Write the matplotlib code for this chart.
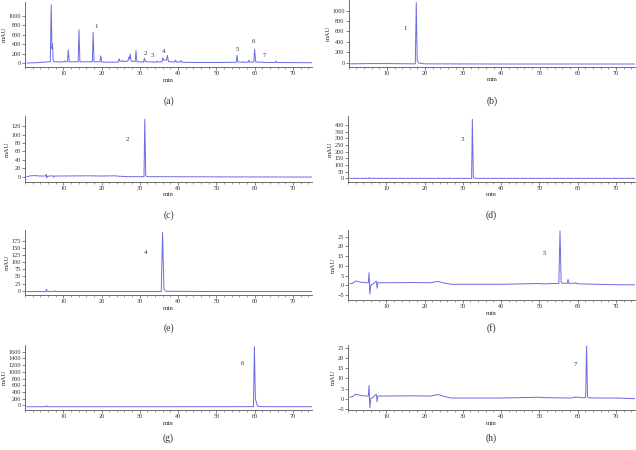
import matplotlib
matplotlib.use("Agg")
import matplotlib.pyplot as plt
from matplotlib.ticker import MultipleLocator

plt.rcParams['font.family'] = ['Liberation Serif', 'DejaVu Serif']

LINE = '#6b6be4'
TXT = '#333333'

# ---------------- data (time in min, signal in mAU) ----------------
a_t = [0.5, 3, 5, 6.6, 6.85, 7.05, 7.2, 7.35, 7.6, 9, 10.1, 10.3, 10.5, 11.1, 11.3, 11.55,
       13.9, 14.1, 14.35, 17.6, 17.8, 18.05, 19.6, 19.8, 20.05, 22, 24.4, 24.6, 24.8,
       25.3, 25.5, 25.7, 26.9, 27.2, 27.35, 27.5, 27.7, 28.8, 29.0, 29.25, 31.0, 31.2,
       31.45, 33.3, 33.5, 33.7, 34.3, 34.5, 34.7, 35.8, 36.0, 36.3, 37.0, 37.2, 37.5,
       39.1, 39.3, 39.6, 40.5, 40.7, 41.0, 45, 50, 55.2, 55.4, 55.65, 56.8, 57.0, 57.2,
       58.3, 58.5, 58.7, 59.8, 60.0, 60.3, 61.8, 62.0, 62.2, 65.3, 65.5, 65.7, 75]
a_v = [0, 5, 20, 25, 1230, 300, 410, 60, 30, 20, 25, 45, 25, 25, 280, 25,
       25, 700, 25, 25, 650, 25, 25, 150, 20, 15, 20, 90, 40,
       35, 55, 30, 40, 130, 90, 190, 40, 30, 260, 25, 20, 100,
       30, 20, 30, 15, 20, 40, 20, 25, 110, 60, 60, 160, 30,
       20, 60, 20, 20, 50, 15, 10, 10, 15, 160, 20, 15, 30, 15,
       15, 60, 15, 20, 290, 20, 15, 25, 10, 10, 40, 10, 5]
a_labels = ['1', '2', '3', '4', '5', '6', '7']
a_lab_t = [18.5, 31.5, 33.4, 36.2, 55.6, 59.7, 62.5]
a_lab_v = [780, 200, 150, 250, 290, 445, 165]

b_t = [0.5, 5.5, 9.8, 17.45, 17.7, 17.95, 18.3, 20, 40, 75]
b_v = [-25, -20, -20, -25, 1155, 40, -10, -25, -28, -28]

c_t = [0.5, 1.5, 2.5, 4, 5.4, 5.55, 5.7, 5.9, 6.5, 7.3, 7.5, 7.7, 8.5, 17, 20, 23.5, 24.5,
       27, 31.1, 31.3, 31.55, 32, 50, 75]
c_v = [0, 2, 2.5, 1.5, 1.5, 5, -3, 1, 1.5, 2, -1.5, 1.5, 1.5, 2, 1.5, 2, 1,
       0, 0, 136, 2, 0, -0.5, -1]

d_t = [0.5, 5.3, 5.5, 5.7, 20, 32.3, 32.5, 32.75, 33.2, 50, 75]
d_v = [0, 0, 6, 0, 0, 0, 442, 5, 0, 0, 0]

e_t = [0.5, 5.4, 5.6, 5.8, 7.6, 7.8, 8.0, 20, 35.6, 35.95, 36.3, 36.8, 50, 75]
e_v = [-3, -3, 5, -3, -3, 0, -3, -3, -3, 203, 5, -2, -3, -3]

f_t = [0.5, 1.2, 2, 3.5, 5.0, 5.3, 5.5, 5.7, 6.0, 6.5, 7.2, 7.45, 7.6, 7.8, 10, 17, 21.5,
       23.5, 25, 27, 40, 50, 51, 55.1, 55.4, 55.7, 56, 57.3, 57.5, 57.7, 59.3, 59.5, 59.8,
       61, 65, 70, 75]
f_v = [0.8, 1.0, 2.2, 1.5, 1.3, 1.3, 6.5, -4.5, 0.3, 0.5, 2.0, 2.0, -1.5, 1.3, 1.3, 1.4, 1.3,
       2.0, 1.2, 0.5, 0.5, 0.9, 0.7, 1.0, 28, 1.5, 1.0, 1.0, 3.0, 1.0, 1.0, 1.4, 0.8,
       0.7, 0.5, 0.3, 0.2]

g_t = [0.5, 5.4, 5.6, 5.8, 20, 40, 59.7, 59.95, 60.2, 60.7, 61.5, 75]
g_v = [-42, -42, -10, -42, -42, -42, -40, 1750, 200, -20, -40, -42]

h_t = [0.5, 1.2, 2, 3.5, 5.0, 5.3, 5.5, 5.7, 6.0, 6.5, 7.2, 7.45, 7.6, 7.8, 10, 17, 21.5,
       23.5, 25, 27, 40, 50, 51, 58.5, 59.3, 59.6, 60.1, 60.5, 61, 62.1, 62.35, 62.6,
       63, 66.5, 70.5, 75]
h_v = [0.8, 1.0, 2.2, 1.5, 1.3, 1.3, 6.5, -4.5, 0.3, 0.5, 2.0, 2.0, -1.5, 1.3, 1.3, 1.4, 1.3,
       2.0, 1.2, 0.3, 0.3, 0.7, 0.5, 0.3, 0.9, 0.5, 0.9, 0.5, 0.5, 0.5, 26, 1.0,
       0.4, 0.3, 0.3, 0.0]

panels = [
    dict(t=a_t, v=a_v, labels=a_labels, lt=a_lab_t, lv=a_lab_v, ylim=(-85, 1290), yticks=list(range(0, 1001, 200)),
         box=(25, 312, 2, 67), cap='(a)', cap_y=101),
    dict(t=b_t, v=b_v, labels=['1'], lt=[14.8], lv=[648], ylim=(-80, 1205), yticks=list(range(0, 1001, 200)),
         box=(348.7, 635, 0, 66.7), cap='(b)', cap_y=101),
    dict(t=c_t, v=c_v, labels=['2'], lt=[26.9], lv=[88], ylim=(-12, 144), yticks=list(range(0, 121, 20)),
         box=(25, 312, 116, 181.7), cap='(c)', cap_y=215),
    dict(t=d_t, v=d_v, labels=['3'], lt=[29.8], lv=[292], ylim=(-25, 467), yticks=list(range(0, 401, 50)),
         box=(348, 635, 116, 181.7), cap='(d)', cap_y=215),
    dict(t=e_t, v=e_v, labels=['4'], lt=[31.6], lv=[134], ylim=(-15, 212), yticks=list(range(0, 176, 25)),
         box=(25, 312, 230, 295), cap='(e)', cap_y=328),
    dict(t=f_t, v=f_v, labels=['5'], lt=[51.4], lv=[16.6], ylim=(-7.6, 28.5), yticks=list(range(-5, 26, 5)),
         box=(348, 635, 230, 300), cap='(f)', cap_y=328),
    dict(t=g_t, v=g_v, labels=['6'], lt=[56.8], lv=[1233], ylim=(-140, 1800), yticks=list(range(0, 1601, 200)),
         box=(25, 312, 345, 410), cap='(g)', cap_y=438),
    dict(t=h_t, v=h_v, labels=['7'], lt=[59.3], lv=[17.1], ylim=(-5.6, 26.5), yticks=list(range(-5, 26, 5)),
         box=(348, 635, 345, 410), cap='(h)', cap_y=438),
]

W, H = 636, 450
fig = plt.figure(figsize=(W / 100, H / 100), dpi=100)
fig.patch.set_facecolor('white')

for p in panels:
    l, r, t, b = p['box']
    ax = fig.add_axes([l / W, 1 - b / H, (r - l) / W, (b - t) / H])
    ax.plot(p['t'], p['v'], color=LINE, lw=0.7)
    for s, x, y in zip(p['labels'], p['lt'], p['lv']):
        ax.text(x, y, s, fontsize=5, color=TXT, ha='center', va='center')
    ax.set_xlim(0, 75)
    ax.set_ylim(*p['ylim'])
    ax.set_yticks(p['yticks'])
    ax.set_xticks([10, 20, 30, 40, 50, 60, 70])
    ax.xaxis.set_minor_locator(MultipleLocator(2))
    for sp in ('top', 'right'):
        ax.spines[sp].set_visible(False)
    for sp in ('left', 'bottom'):
        ax.spines[sp].set_color('#555555')
        ax.spines[sp].set_linewidth(0.6)
    ax.tick_params(axis='both', which='major', length=2, width=0.5, labelsize=4.5,
                   colors='#555555', labelcolor=TXT, pad=1)
    ax.tick_params(axis='x', which='minor', length=1.2, width=0.4, colors='#555555')
    ax.set_xlabel('min', fontsize=5, color=TXT, labelpad=1)
    ax.set_ylabel('mAU', fontsize=5, color=TXT, labelpad=1)
    ax.patch.set_alpha(0)
    cx = (l + r) / 2 / W
    fig.text(cx, 1 - p['cap_y'] / H, p['cap'], fontsize=7, color=TXT, ha='center', va='center')

fig.savefig('out.png', dpi=100, facecolor='white')
